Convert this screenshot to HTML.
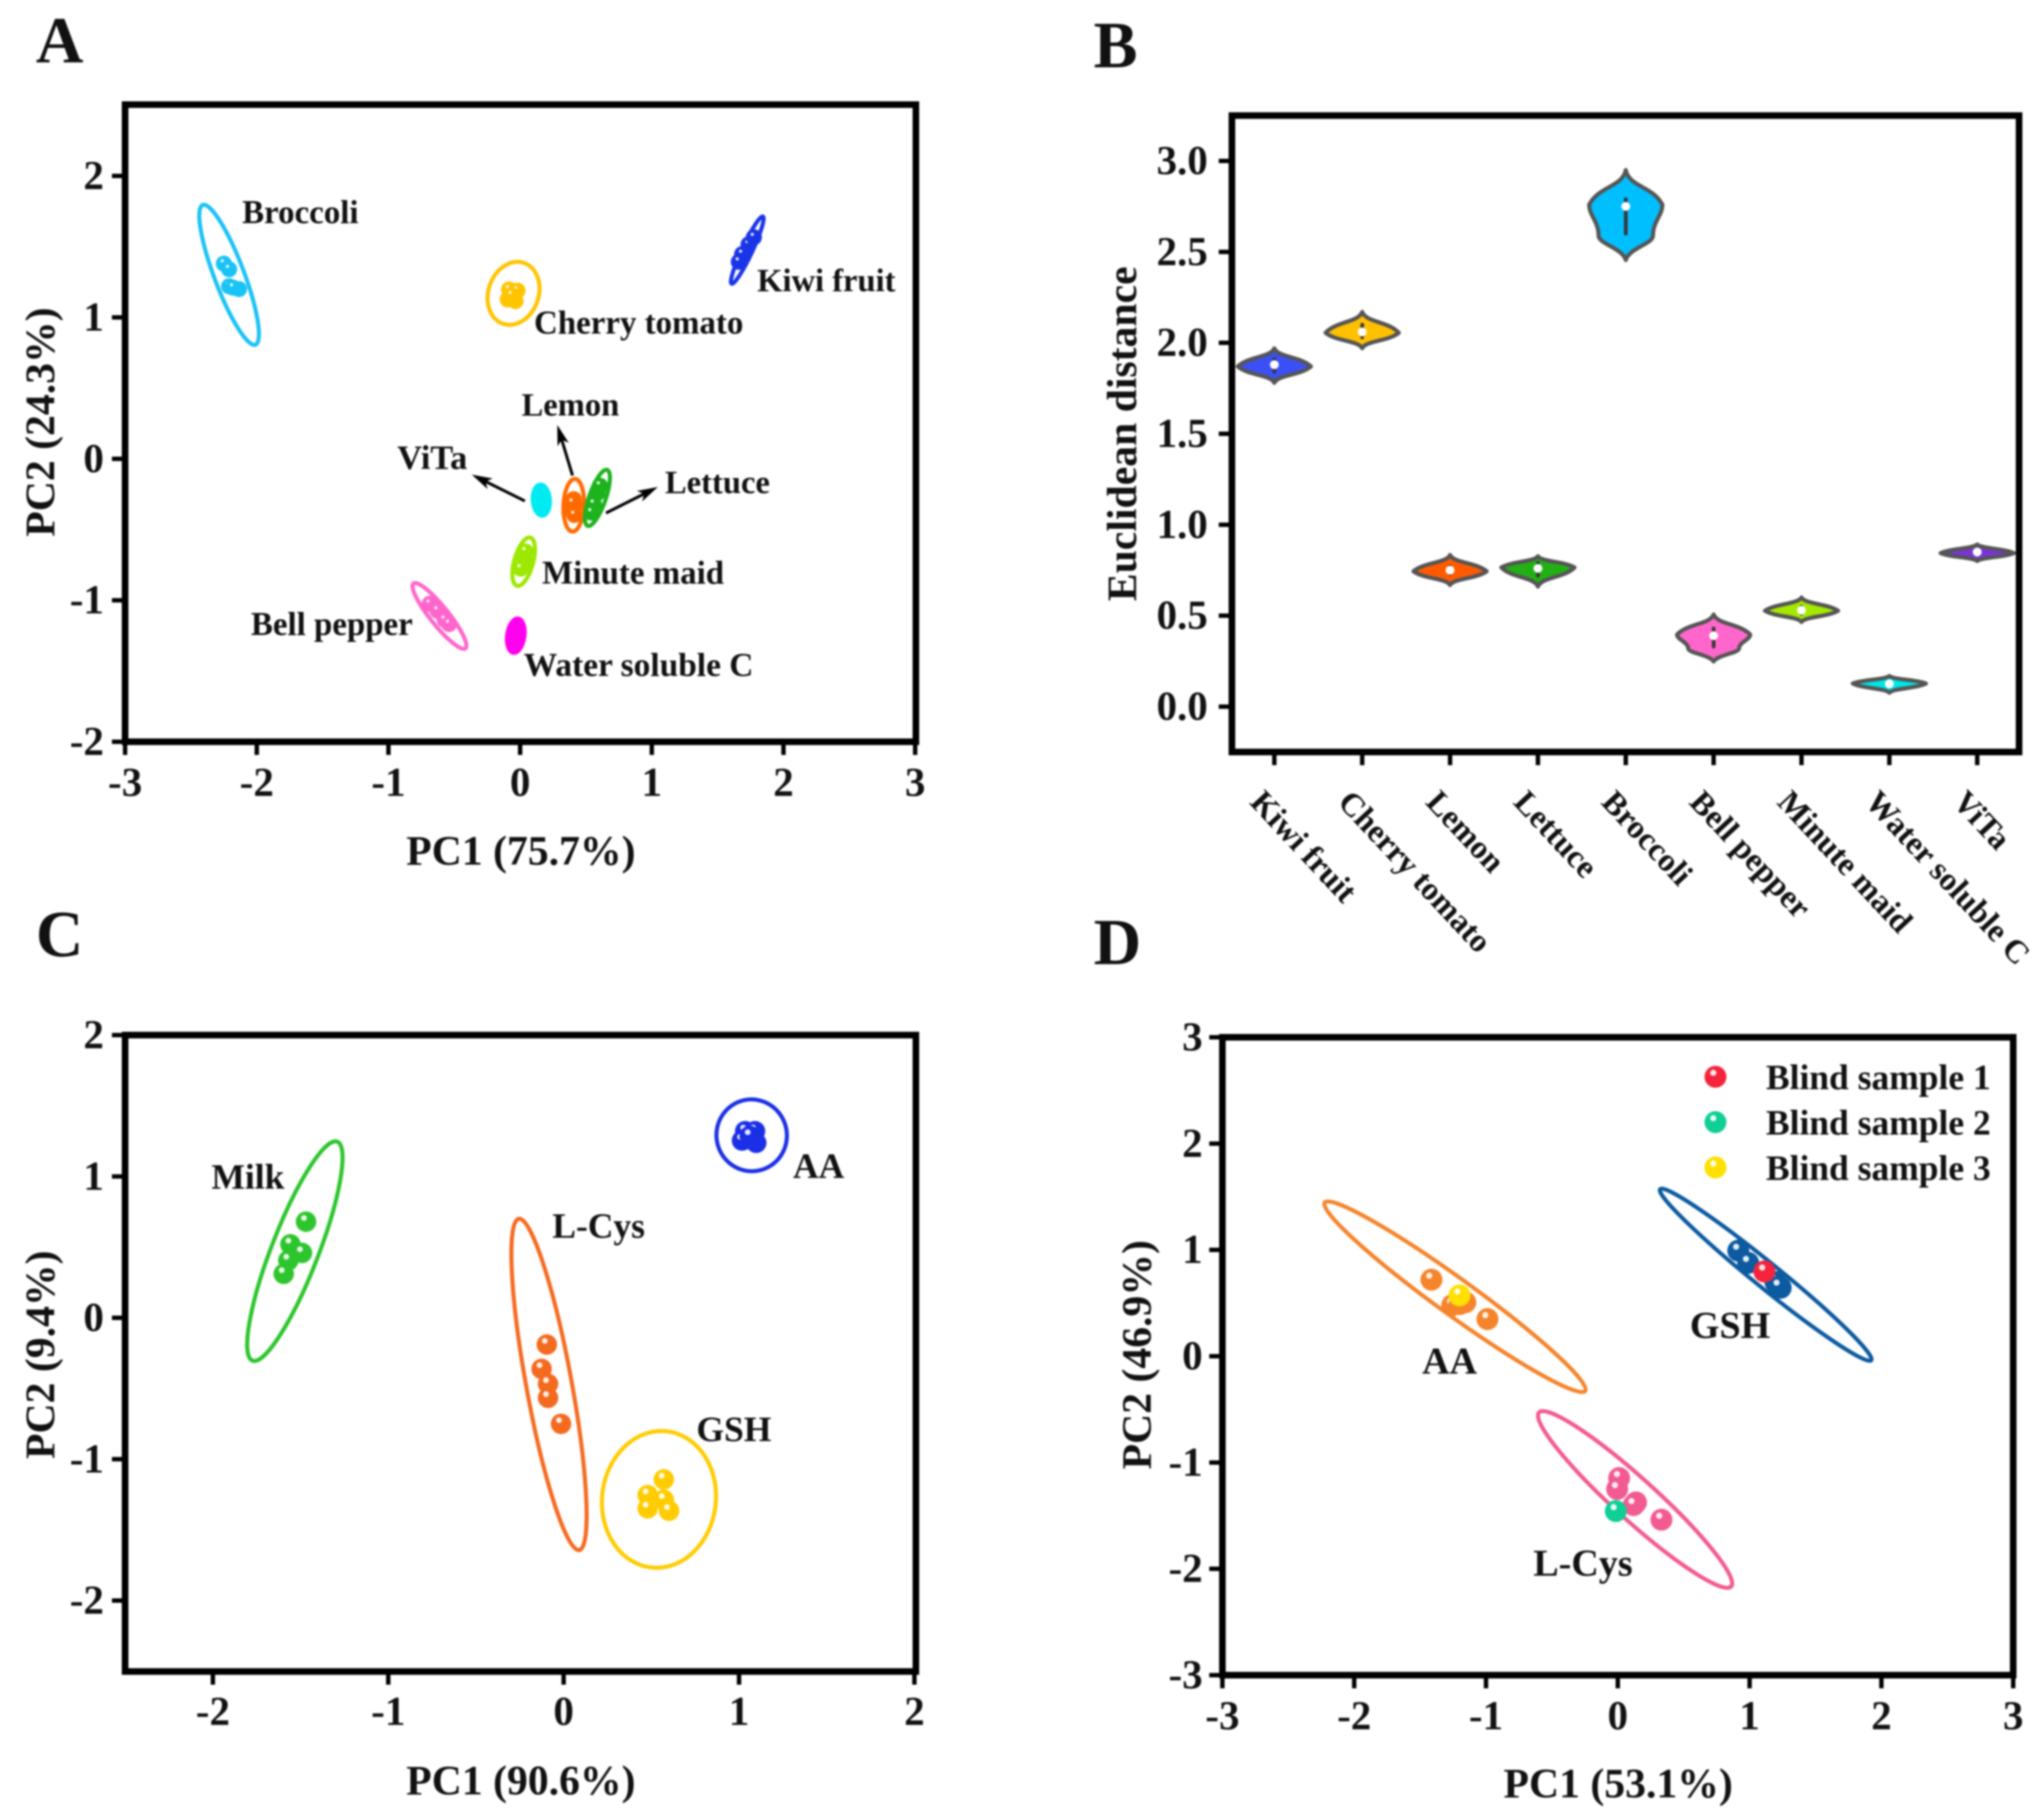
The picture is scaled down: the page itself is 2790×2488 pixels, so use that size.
<!DOCTYPE html>
<html lang="en">
<head>
<meta charset="utf-8">
<title>PCA and Euclidean distance panels</title>
<style>
html,body{margin:0;padding:0;background:#fff;width:2790px;height:2488px;overflow:hidden}
svg{display:block;filter:blur(1.2px)}
text{font-family:"Liberation Serif",serif;font-weight:bold;fill:#111}
</style>
</head>
<body>
<svg id="figure" xmlns="http://www.w3.org/2000/svg" width="2790" height="2488" viewBox="0 0 2790 2488">
<rect x="0" y="0" width="2790" height="2488" fill="#fff"/>
</svg>
<script>
/* ---------- Panel A data ---------- */
const aNames = ['broccoli','cherry-tomato','kiwi-fruit','lemon','lettuce','vita','minute-maid','bell-pepper','water-soluble-c'];
const aTip1X = [-2.41,0.03,1.844,0.417,0.661,0.152,0.078,-0.81,-0.015];
const aTip1Y = [1.795,1.385,1.713,-0.142,-0.078,-0.182,-0.557,-0.881,-1.129];
const aTip2X = [-2.01,-0.13,1.606,0.397,0.513,0.17,-0.024,-0.415,-0.051];
const aTip2Y = [0.807,0.955,1.238,-0.514,-0.474,-0.402,-0.897,-1.34,-1.371];
const aRatio = [0.2,0.78,0.14,0.39,0.28,0.55,0.38,0.22,0.5];
const aPointsX = [
  [-2.25,-2.21,-2.21,-2.135,-2.18],
  [-0.084,-0.02,-0.094,-0.035,-0.064],
  [1.686,1.735,1.775,1.661],
  [0.407,0.417,0.393,0.411,0.398],
  [0.587,0.559,0.541,0.606],
  [0.161,0.17,0.161],
  [0.032,0.022,0.041,0.004],
  [-0.687,-0.628,-0.573,-0.539],
  [-0.02,-0.04,-0.015,-0.05]
];
const aPointsY = [
  [1.38,1.34,1.22,1.20,1.21],
  [1.197,1.189,1.127,1.115,1.156],
  [1.447,1.516,1.566,1.393],
  [-0.285,-0.327,-0.363,-0.397,-0.311],
  [-0.242,-0.319,-0.38,-0.19],
  [-0.242,-0.294,-0.345],
  [-0.707,-0.759,-0.655,-0.776],
  [-1.025,-1.074,-1.139,-1.168],
  [-1.18,-1.25,-1.22,-1.30]
];
const aArrowFromX = [0.398,0.036,0.652];
const aArrowFromY = [-0.118,-0.298,-0.383];
const aArrowToX = [0.282,-0.367,1.046];
const aArrowToY = [0.24,-0.112,-0.199];
const aXTicks = [-3,-2,-1,0,1,2,3];
const aYTicks = [-2,-1,0,1,2];

/* ---------- Panel B data ---------- */
const bCategories = ['Kiwi fruit','Cherry tomato','Lemon','Lettuce','Broccoli','Bell pepper','Minute maid','Water soluble C','ViTa'];
const bMedian = [1.88,2.06,0.75,0.76,2.75,0.39,0.53,0.125,0.85];
const bQ1 = [1.84,2.03,0.73,0.72,2.6,0.33,0.51,0.115,0.84];
const bQ3 = [1.91,2.1,0.77,0.79,2.79,0.43,0.55,0.135,0.86];
const bTop = [1.97,2.17,0.834,0.827,2.95,0.507,0.6,0.169,0.892];
const bBottom = [1.78,1.97,0.668,0.66,2.455,0.248,0.465,0.076,0.8];
const bPeak = [1.87,2.055,0.744,0.765,2.76,0.396,0.527,0.127,0.844];
const bPeakDensity = [0.417,0.417,0.417,0.417,0.417,0.417,0.417,0.417,0.417];
const bShoulder = [null,null,null,null,2.59,0.32,null,null,null];
const bShoulderDensity = [0,0,0,0,0.31,0.29,0,0,0];
const bYTicks = [0,0.5,1,1.5,2,2.5,3];

/* ---------- Panel C data ---------- */
const cNames = ['milk','l-cys','gsh','aa'];
const cTip1X = [-1.291,-0.256,0.59,1.035];
const cTip1Y = [1.246,0.701,-0.803,1.541];
const cTip2X = [-1.774,0.089,0.497,1.109];
const cTip2Y = [-0.303,-1.643,-1.766,1.041];
const cRatio = [0.2,0.135,0.83,0.98];
const cPointsX = [
  [-1.469,-1.558,-1.492,-1.57,-1.596],
  [-0.096,-0.126,-0.089,-0.089,-0.015],
  [0.571,0.479,0.571,0.479,0.601],
  [1.035,1.091,1.017,1.098,1.061]
];
const cPointsY = [
  [0.68,0.52,0.459,0.406,0.311],
  [-0.189,-0.361,-0.467,-0.566,-0.75],
  [-1.143,-1.254,-1.287,-1.348,-1.365],
  [1.32,1.32,1.254,1.238,1.287]
];
const cXTicks = [-2,-1,0,1,2];
const cYTicks = [-2,-1,0,1,2];

/* ---------- Panel D data ---------- */
const dNames = ['aa','gsh','l-cys'];
const dTip1X = [-2.224,0.321,-0.598];
const dTip1Y = [1.446,1.571,-0.529];
const dTip2X = [-0.247,1.923,0.86];
const dTip2Y = [-0.327,-0.038,-2.166];
const dRatio = [0.113,0.092,0.16];
const dPointsX = [
  [-1.414,-1.157,-1.256,-0.989,-1.2],
  [0.914,0.989,1.196,1.236,1.221],
  [0.01,-0.005,0.138,0.331,0.12]
];
const dPointsY = [
  [0.72,0.507,0.48,0.349,0.49],
  [0.993,0.878,0.698,0.644,0.655],
  [-1.146,-1.249,-1.375,-1.538,-1.4]
];
const dBlindNames = ['Blind sample 1','Blind sample 2','Blind sample 3'];
const dBlindX = [1.112,-0.015,-1.201];
const dBlindY = [0.797,-1.457,0.573];
const dXTicks = [-3,-2,-1,0,1,2,3];
const dYTicks = [-3,-2,-1,0,1,2,3];

/* ---------- Styling ---------- */
const aColors = ['#19c3f5','#ffc400','#1a35e8','#ff6a00','#1db31d','#00eaf2','#9de800','#ff66cc','#ff00ee'];
const aSolid = ['vita','water-soluble-c'];
const bColors = ['#3a50f5','#ffc000','#ff5a00','#22b014','#00bfff','#ff66cc','#a5e800','#00e5e5','#7a33d9'];
const cColors = ['#2dc52d','#f46a1f','#ffcc00','#1a2fe6'];
const dColors = ['#f5842b','#0c5aa0','#f25a92'];
const dBlindColors = ['#f5233c','#0fcf96','#ffe000'];

const NS = 'http://www.w3.org/2000/svg';
const root = document.getElementById('figure');

function mk(tag, attrs, parent) {
  const e = document.createElementNS(NS, tag);
  for (const k in attrs) e.setAttribute(k, attrs[k]);
  (parent || root).appendChild(e);
  return e;
}
function label(str, x, y, size, anchor, parent, transform) {
  const attrs = {x: x, y: y, 'font-size': size, 'text-anchor': anchor || 'start'};
  if (transform) attrs.transform = transform;
  const e = mk('text', attrs, parent);
  e.textContent = str;
  return e;
}
function linear(d0, d1, r0, r1) {
  return function (v) { return r0 + (v - d0) * (r1 - r0) / (d1 - d0); };
}

function drawFrame(g, f) {
  const el = mk('rect', {x: f.l, y: f.t, width: f.r - f.l, height: f.b - f.t, fill: 'none', stroke: '#000', 'stroke-width': 9}, g);
  
  
}
function drawXAxis(g, f, sx, ticks, baseline) {
  ticks.forEach(function (t) {
    const x = sx(t);
    const tick = mk('line', {x1: x, x2: x, y1: f.b, y2: f.b + 18, stroke: '#000', 'stroke-width': 6}, g);
    
    
    const tl = label(String(t), x, baseline, 56, 'middle', g);
    
    
  });
}
function drawYAxis(g, f, sy, ticks, rightEdge, fmt) {
  ticks.forEach(function (t) {
    const y = sy(t);
    const tick = mk('line', {x1: f.l - 18, x2: f.l, y1: y, y2: y, stroke: '#000', 'stroke-width': 6}, g);
    
    
    const tl = label(fmt ? fmt(t) : String(t), rightEdge, y + 18, 56, 'end', g);
    
    
  });
}
function drawEllipse(g, sx, sy, x1, y1, x2, y2, ratio, color, name, solid) {
  const px1 = sx(x1), py1 = sy(y1), px2 = sx(x2), py2 = sy(y2);
  const cx = (px1 + px2) / 2, cy = (py1 + py2) / 2;
  const rx = Math.hypot(px2 - px1, py2 - py1) / 2;
  const angle = Math.atan2(py2 - py1, px2 - px1) * 180 / Math.PI;
  const el = mk('ellipse', {cx: cx, cy: cy, rx: rx, ry: rx * ratio, fill: solid ? color : 'none', stroke: color, 'stroke-width': 5.5,
    transform: 'rotate(' + angle + ' ' + cx + ' ' + cy + ')'}, g);
  
  
}
function drawPoint(g, x, y, r, color, name, glint) {
  const p = mk('circle', {cx: x, cy: y, r: r, fill: color}, g);
  
  
  if (glint > 0) {
    const h = mk('circle', {cx: x - r * 0.2, cy: y - r * 0.36, r: r * glint, fill: '#fff', opacity: 0.9}, g);
    
    
  }
}
function drawGroups(g, sx, sy, names, t1x, t1y, t2x, t2y, ratio, px, py, colors, r, glint, solid) {
  names.forEach(function (n, i) {
    const isSolid = solid.indexOf(n) >= 0;
    drawEllipse(g, sx, sy, t1x[i], t1y[i], t2x[i], t2y[i], ratio[i], colors[i], n, isSolid);
    px[i].forEach(function (v, j) {
      drawPoint(g, sx(v), sy(py[i][j]), r, colors[i], n, isSolid ? 0 : glint);
    });
  });
}
function drawArrow(g, x1, y1, x2, y2, name) {
  const a = Math.atan2(y2 - y1, x2 - x1);
  const ux = Math.cos(a), uy = Math.sin(a);
  const line = mk('line', {x1: x1, y1: y1, x2: x2 - ux * 10, y2: y2 - uy * 10, stroke: '#000', 'stroke-width': 4}, g);
  
  
  const bx = x2 - ux * 28, by = y2 - uy * 28;
  const nx = x2 - ux * 21, ny = y2 - uy * 21;
  const pts = [[x2, y2], [bx - uy * 8, by + ux * 8], [nx, ny], [bx + uy * 8, by - ux * 8]].map(function (p) { return p.join(','); }).join(' ');
  const head = mk('polygon', {points: pts, fill: '#000'}, g);
  
  
}
function axisTitleX(g, str, x, y) {
  const t = label(str, x, y, 57, 'middle', g);
  
  
}
function axisTitleY(g, str, x, y) {
  const t = label(str, x, y, 57, 'middle', g, 'rotate(-90 ' + x + ' ' + y + ')');
  
  
}
function panelLetter(g, str, x, y) {
  const t = label(str, x, y, 90, 'start', g);
  
  
}
function annotate(g, str, x, y, size) {
  const t = label(str, x, y, size, 'start', g);
  
  
}

/* ---------- Panel A ---------- */
(function () {
  const g = mk('g', {});
  
  
  const f = {l: 171, r: 1252, t: 143, b: 1014};
  const sx = linear(-3, 3, 171, 1251);
  const sy = linear(-2, 2, 1014, 240.5);
  panelLetter(g, 'A', 49, 85);
  drawFrame(g, f);
  drawXAxis(g, f, sx, aXTicks, 1088);
  drawYAxis(g, f, sy, aYTicks, 142);
  drawGroups(g, sx, sy, aNames, aTip1X, aTip1Y, aTip2X, aTip2Y, aRatio, aPointsX, aPointsY, aColors, 11, 0.2, aSolid);
  aArrowFromX.forEach(function (v, i) {
    drawArrow(g, sx(v), sy(aArrowFromY[i]), sx(aArrowToX[i]), sy(aArrowToY[i]), ['lemon', 'vita', 'lettuce'][i]);
  });
  annotate(g, 'Broccoli', 331, 305, 45);
  annotate(g, 'Kiwi fruit', 1035, 398, 44.5);
  annotate(g, 'Cherry tomato', 730, 456, 45);
  annotate(g, 'Lemon', 713, 568, 44.5);
  annotate(g, 'ViTa', 543, 641, 47);
  annotate(g, 'Lettuce', 909, 674, 44.5);
  annotate(g, 'Minute maid', 741, 798, 45);
  annotate(g, 'Bell pepper', 343, 868, 45);
  annotate(g, 'Water soluble C', 716, 924, 45.7);
  axisTitleX(g, 'PC1 (75.7%)', 712, 1182);
  axisTitleY(g, 'PC2 (24.3%)', 74, 577);
})();

/* ---------- Panel B ---------- */
function violinKnots(w, yT, yP, yB, yS, sw) {
  const hT = yP - yT;
  const k = [[0, yT], [0.1 * w, yT + 0.5 * hT], [0.72 * w, yP - 0.55 * hT], [w, yP]];
  if (yS !== null) {
    const d1 = yS - yP, h2 = yB - yS;
    k.push([w, yP + 0.35 * d1], [sw, yS - 0.45 * d1], [sw, yS]);
    k.push([sw, yS + 0.35 * h2], [0.1 * w, yB - 0.5 * h2], [0, yB]);
  } else {
    const hB = yB - yP;
    k.push([0.72 * w, yP + 0.55 * hB], [0.1 * w, yB - 0.5 * hB], [0, yB]);
  }
  return k;
}
function violinPath(cx, knots) {
  let d = 'M' + (cx + knots[0][0]) + ' ' + knots[0][1] + ' C';
  for (let i = 1; i < knots.length; i++) d += (cx + knots[i][0]) + ' ' + knots[i][1] + ' ';
  for (let i = knots.length - 2; i >= 0; i--) d += (cx - knots[i][0]) + ' ' + knots[i][1] + ' ';
  return d + 'Z';
}
(function () {
  const g = mk('g', {});
  
  
  const f = {l: 1684, r: 2760, t: 158, b: 1028};
  const sy = linear(0, 3, 966, 220);
  const step = 120.1;
  const sx = function (i) { return 1742 + i * step; };
  panelLetter(g, 'B', 1495, 92);
  drawFrame(g, f);
  drawYAxis(g, f, sy, bYTicks, 1651, function (t) { return t.toFixed(1); });
  bCategories.forEach(function (c, i) {
    const slug = c.toLowerCase().replace(/\s+/g, '-');
    const x = sx(i);
    const tick = mk('line', {x1: x, x2: x, y1: f.b, y2: f.b + 18, stroke: '#000', 'stroke-width': 6}, g);
    
    
    const lx = x - 35, ly = 1098;
    const tl = label(c, lx, ly, 44.5, 'start', g, 'rotate(47 ' + lx + ' ' + ly + ')');
    
    

    const w = bPeakDensity[i] * step;
    const yS = bShoulder[i] === null ? null : sy(bShoulder[i]);
    const knots = violinKnots(w, sy(bTop[i]), sy(bPeak[i]), sy(bBottom[i]), yS, bShoulderDensity[i] * step);
    const v = mk('path', {d: violinPath(x, knots), fill: bColors[i], stroke: '#555', 'stroke-width': 5.5, 'stroke-linejoin': 'round'}, g);
    
    
    const box = mk('line', {x1: x, x2: x, y1: sy(bQ1[i]), y2: sy(bQ3[i]), stroke: '#3a3434', 'stroke-width': 5, 'stroke-linecap': 'round'}, g);
    
    
    const m = mk('circle', {cx: x, cy: sy(bMedian[i]), r: 6, fill: '#fff'}, g);
    
    
  });
  axisTitleY(g, 'Euclidean distance', 1553, 593);
})();

/* ---------- Panel C ---------- */
(function () {
  const g = mk('g', {});
  
  
  const f = {l: 171, r: 1252, t: 1415, b: 2285};
  const sx = linear(-2, 2, 291, 1250);
  const sy = linear(-2, 2, 2188, 1415);
  panelLetter(g, 'C', 49, 1307);
  drawFrame(g, f);
  drawXAxis(g, f, sx, cXTicks, 2358);
  drawYAxis(g, f, sy, cYTicks, 142);
  drawGroups(g, sx, sy, cNames, cTip1X, cTip1Y, cTip2X, cTip2Y, cRatio, cPointsX, cPointsY, cColors, 14, 0.28, []);
  annotate(g, 'Milk', 289, 1625, 48.5);
  annotate(g, 'L-Cys', 755, 1692, 48.5);
  annotate(g, 'AA', 1084, 1610, 48.5);
  annotate(g, 'GSH', 952, 1970, 48.5);
  axisTitleX(g, 'PC1 (90.6%)', 712, 2453);
  axisTitleY(g, 'PC2 (9.4%)', 74, 1852);
})();

/* ---------- Panel D ---------- */
(function () {
  const g = mk('g', {});
  
  
  const f = {l: 1671, r: 2752, t: 1418, b: 2290};
  const sx = linear(-3, 3, 1671, 2752);
  const sy = linear(-3, 3, 2290, 1418);
  panelLetter(g, 'D', 1495, 1318);
  drawFrame(g, f);
  drawXAxis(g, f, sx, dXTicks, 2364);
  drawYAxis(g, f, sy, dYTicks, 1644);
  drawGroups(g, sx, sy, dNames, dTip1X, dTip1Y, dTip2X, dTip2Y, dRatio, dPointsX, dPointsY, dColors, 15, 0.28, []);
  dBlindNames.forEach(function (n, i) {
    const slug = n.toLowerCase().replace(/\s+/g, '-');
    drawPoint(g, sx(dBlindX[i]), sy(dBlindY[i]), 15, dBlindColors[i], slug, 0.28);
    const ly = 1472 + i * 62;
    drawPoint(g, 2345, ly, 15, dBlindColors[i], 'legend-' + slug, 0.28);
    const t = label(n, 2414, ly + 17, 48.5, 'start', g);
    
    
  });
  annotate(g, 'AA', 1944, 1878, 52);
  annotate(g, 'GSH', 2310, 1829, 52);
  annotate(g, 'L-Cys', 2096, 2154, 52);
  axisTitleX(g, 'PC1 (53.1%)', 2212, 2457);
  axisTitleY(g, 'PC2 (46.9%)', 1573, 1852);
})();
</script>
</body>
</html>
